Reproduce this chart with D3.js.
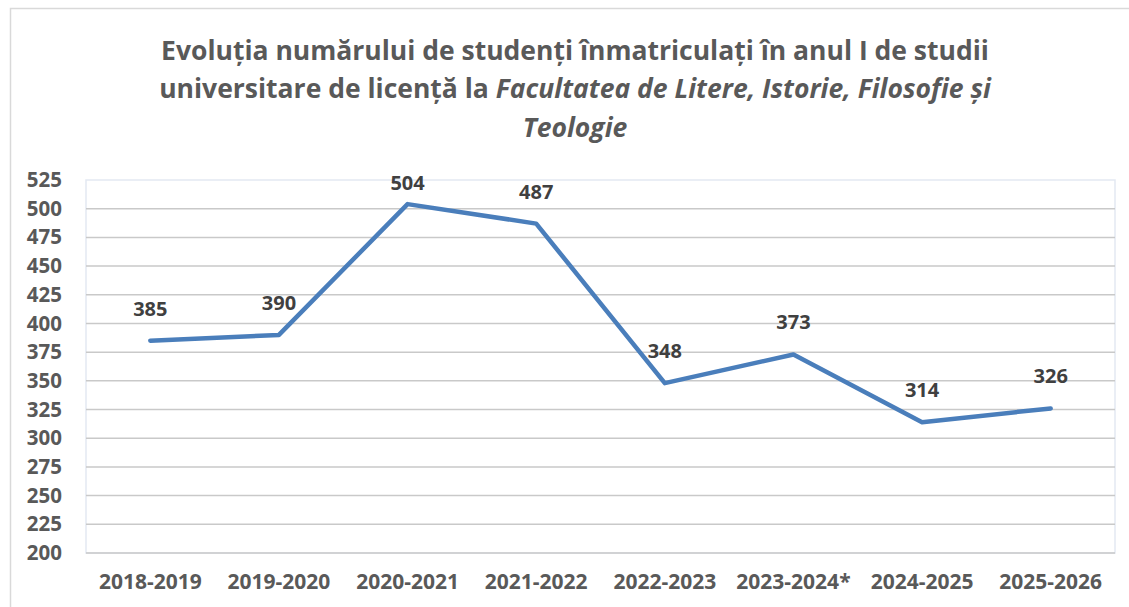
<!DOCTYPE html>
<html>
<head>
<meta charset="utf-8">
<script src="https://cdn.jsdelivr.net/npm/d3@7"></script>
<style>
  body { margin: 0; background: #fff; }
  svg { display: block; font-family: "Open Sans", sans-serif; }
</style>
</head>
<body>
<svg id="chart" width="1129" height="607"></svg>
<script>
// data
var years = ["2018-2019", "2019-2020", "2020-2021", "2021-2022", "2022-2023", "2023-2024*", "2024-2025", "2025-2026"];
var students = [385, 390, 504, 487, 348, 373, 314, 326];
var yTicks = [200, 225, 250, 275, 300, 325, 350, 375, 400, 425, 450, 475, 500, 525];

var margin = {top: 180, right: 14, bottom: 54, left: 86};
var svgWidth = 1129, svgHeight = 607;
var width = svgWidth - margin.left - margin.right;
var height = svgHeight - margin.top - margin.bottom;

var svg = d3.select("#chart");

// outer chart border
svg.append("rect")
  .attr("x", 10.5).attr("y", 8.5)
  .attr("width", 1140).attr("height", 620)
  .attr("fill", "none")
  .attr("stroke", "#d9d9d9")
  .attr("stroke-width", 1.5);

// title
var title = svg.append("text")
  .attr("text-anchor", "middle")
  .style("font-size", "26.5px")
  .style("font-weight", "bold")
  .style("fill", "#595959");

title.append("tspan").attr("x", 575).attr("y", 60)
  .text("Evoluția numărului de studenți înmatriculați în anul I de studii");
var line2 = title.append("tspan").attr("x", 575).attr("y", 98);
line2.append("tspan").text("universitare de licență la ");
line2.append("tspan").style("font-style", "italic").text("Facultatea de Litere, Istorie, Filosofie și");
title.append("tspan").attr("x", 575).attr("y", 137)
  .style("font-style", "italic")
  .text("Teologie");

var chartGroup = svg.append("g")
  .attr("transform", `translate(${margin.left}, ${margin.top})`);

var xBandScale = d3.scaleBand()
  .domain(years)
  .range([0, width]);

var yLinearScale = d3.scaleLinear()
  .domain([200, 525])
  .range([height, 0]);

// plot area border
chartGroup.append("rect")
  .attr("width", width)
  .attr("height", height)
  .attr("fill", "none")
  .attr("stroke", "#e3e9f2")
  .attr("stroke-width", 1.5);

// gridlines
chartGroup.append("g")
  .selectAll("line")
  .data(yTicks.filter(t => t < 525))
  .enter()
  .append("line")
  .attr("x1", 0)
  .attr("x2", width)
  .attr("y1", d => yLinearScale(d))
  .attr("y2", d => yLinearScale(d))
  .attr("stroke", "#c9c9c9")
  .attr("stroke-width", 1.5);

// y axis labels
var leftAxis = d3.axisLeft(yLinearScale)
  .tickValues(yTicks)
  .tickSize(0)
  .tickPadding(24);

var yAxis = chartGroup.append("g").call(leftAxis);
yAxis.select(".domain").remove();
yAxis.selectAll("text")
  .style("font-family", "Open Sans, sans-serif")
  .style("font-size", "20.5px")
  .style("font-weight", "bold")
  .style("fill", "#595959");

// x axis labels
var bottomAxis = d3.axisBottom(xBandScale)
  .tickSize(0)
  .tickPadding(21);

var xAxis = chartGroup.append("g")
  .attr("transform", `translate(0, ${height})`)
  .call(bottomAxis);
xAxis.select(".domain").remove();
xAxis.selectAll("text")
  .style("font-family", "Open Sans, sans-serif")
  .style("font-size", "21px")
  .style("font-weight", "bold")
  .style("fill", "#595959");

var xCenter = d => xBandScale(d) + xBandScale.bandwidth() / 2;

// line
var line = d3.line()
  .x((d, i) => xCenter(years[i]))
  .y(d => yLinearScale(d));

chartGroup.append("path")
  .datum(students)
  .attr("d", line)
  .attr("fill", "none")
  .attr("stroke", "#4a7ebb")
  .attr("stroke-width", 4.5)
  .attr("stroke-linejoin", "round")
  .attr("stroke-linecap", "round");

// data labels
chartGroup.append("g")
  .selectAll("text")
  .data(students)
  .enter()
  .append("text")
  .attr("x", (d, i) => xCenter(years[i]))
  .attr("y", d => Math.max(yLinearScale(d) - 25, 10))
  .attr("text-anchor", "middle")
  .style("font-size", "20px")
  .style("font-weight", "bold")
  .style("fill", "#404040")
  .text(d => d);
</script>
</body>
</html>
